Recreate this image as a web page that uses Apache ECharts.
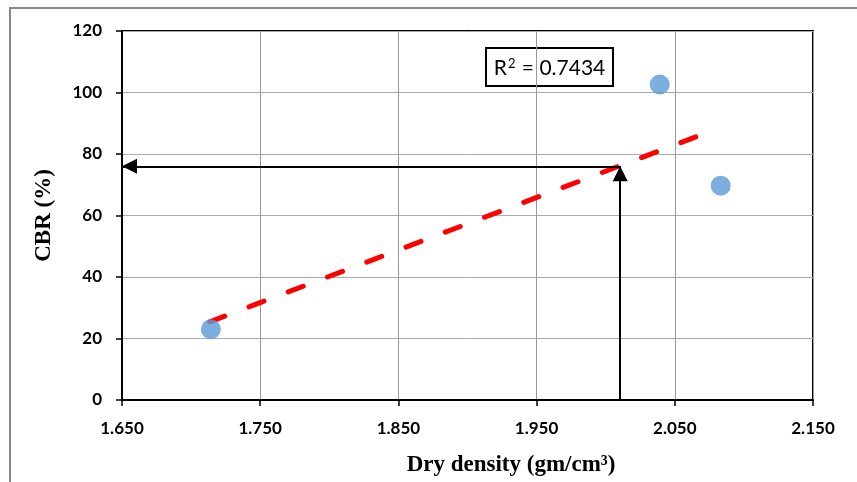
<!DOCTYPE html>
<html><head><meta charset="utf-8">
<script src="https://cdn.jsdelivr.net/npm/echarts@6/dist/echarts.min.js"></script>
<style>html,body{margin:0;padding:0;background:#fff}#c{width:857px;height:482px}</style>
</head><body><div id="c"></div>
<script>
// Data
const dryDensity = [1.7143, 2.0391, 2.0832];
const cbr = [23.0, 102.6, 69.7];
const trendX = [1.7135, 2.0682];   // visible extent of the linear trendline
const readX = 2.0105;
const readY = 76.0;                // resulting CBR
const r2Value = '0.7434';
const xTicks = [1.65, 1.75, 1.85, 1.95, 2.05, 2.15];
const yTicks = [0, 20, 40, 60, 80, 100, 120];

// least-squares line through the points
const n = dryDensity.length;
const mx = dryDensity.reduce((a,b)=>a+b,0)/n, my = cbr.reduce((a,b)=>a+b,0)/n;
let sxy=0, sxx=0;
for (let i=0;i<n;i++){ sxy+=(dryDensity[i]-mx)*(cbr[i]-my); sxx+=(dryDensity[i]-mx)**2; }
const slope = sxy/sxx, icpt = my - slope*mx;
const trendData = trendX.map(x=>[x, slope*x+icpt]);

const chart = echarts.init(document.getElementById('c'), null, {renderer:'canvas'});
const tickFont = {fontFamily:'Lato', fontWeight:'bold', fontSize:17, color:'#000'};
chart.setOption({
  backgroundColor:'#fff',
  animation:false,
  grid:{left:122, right:44, top:31, bottom:81, show:true, borderColor:'#000', borderWidth:2, backgroundColor:'transparent'},
  xAxis:{
    type:'value', min:1.65, max:2.15, interval:0.1,
    name:'Dry density (gm/cm³)', nameLocation:'middle', nameGap:54,
    nameTextStyle:{fontFamily:'Liberation Serif', fontWeight:'bold', fontSize:23, color:'#000', padding:[0,0,0,87]},
    axisLine:{show:true, onZero:false, lineStyle:{color:'#000', width:2}},
    axisTick:{show:true, length:6, lineStyle:{color:'#000', width:1.5}},
    axisLabel:{...tickFont, margin:20, formatter:v=>v.toFixed(3)},
    splitLine:{show:true, lineStyle:{color:'#999', width:1}}
  },
  yAxis:{
    type:'value', min:0, max:120, interval:20,
    name:'CBR (%)', nameLocation:'middle', nameGap:66, nameRotate:90,
    nameTextStyle:{fontFamily:'Liberation Serif', fontWeight:'bold', fontSize:23, color:'#000'},
    axisLine:{show:true, lineStyle:{color:'#000', width:2}},
    axisTick:{show:true, length:6, lineStyle:{color:'#000', width:1.5}},
    axisLabel:{...tickFont, margin:20},
    splitLine:{show:true, lineStyle:{color:'#aaa', width:1}}
  },
  graphic:[
    {type:'rect', shape:{x:10, y:8, width:900, height:520}, style:{fill:'none', stroke:'#888', lineWidth:2}, silent:true, z:-1},
    {type:'group', left:485, top:47, children:[
      {type:'rect', shape:{x:0, y:0, width:127, height:38}, style:{fill:'#fff', stroke:'#000', lineWidth:2}},
      {type:'text', style:{x:63.5, y:20, text:'{a|R}{s|2}{a| = ' + r2Value + '}', align:'center', verticalAlign:'middle',
        rich:{a:{fontFamily:'Lato', fontSize:21, fill:'#000', color:'#000'},
              s:{fontFamily:'Lato', fontSize:13, color:'#000', verticalAlign:'top', padding:[0,1,9,1]}}}}
    ], z:20}
  ],
  series:[
    {type:'line', data:trendData, symbol:'none', z:3,
     lineStyle:{color:'#ff0000', width:5, type:[16,26], cap:'round'}},
    {type:'scatter', data:dryDensity.map((x,i)=>[x,cbr[i]]), symbolSize:20, z:4,
     itemStyle:{color:'#5b9bd5'}},
    {type:'line', data:[], z:5,
     markLine:{silent:true, animation:false, symbol:['none','triangle'], symbolSize:[15,15],
       symbolOffset:[[0,0],[0,7.5]],
       label:{show:false}, lineStyle:{color:'#000', width:2, type:'solid'},
       data:[
         [{coord:[readX, readY]}, {coord:[1.65, readY]}],
         [{coord:[readX, 0]}, {coord:[readX, readY]}]
       ]}}
  ]
});
</script></body></html>
